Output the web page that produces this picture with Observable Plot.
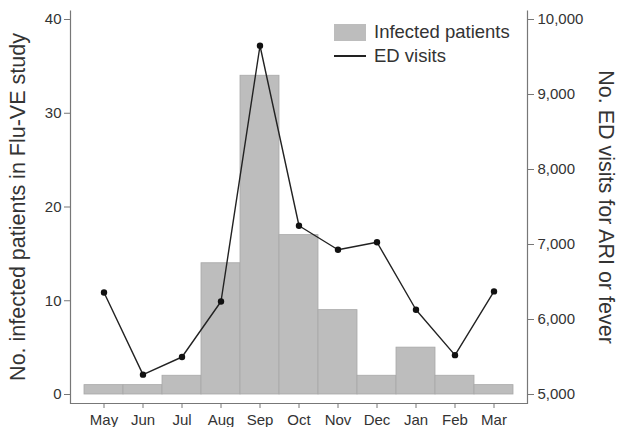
<!DOCTYPE html>
<html><head><meta charset="utf-8">
<script src="https://cdn.jsdelivr.net/npm/d3@7"></script>
<script src="https://cdn.jsdelivr.net/npm/@observablehq/plot@0.6"></script>
<style>
body{margin:0;background:#fff;}
#wrap{position:relative;width:617px;height:427px;font-family:"Liberation Sans",Arial,sans-serif;}
#wrap svg{overflow:visible;}
.legend{position:absolute;left:334px;top:20px;font-size:18.5px;color:#333;line-height:24px;}
.legend .row{display:flex;align-items:center;height:24px;}
.legend .sw{width:32px;height:17px;background:#bdbdbd;margin-right:8px;}
.legend .ln{width:32px;height:2px;background:#222;margin-right:8px;}
</style></head><body><div id="wrap"></div>
<script>
const months = ["May","Jun","Jul","Aug","Sep","Oct","Nov","Dec","Jan","Feb","Mar"];
const infected = [1, 1, 2, 14, 34, 17, 9, 2, 5, 2, 1];
const edVisits = [6360, 5265, 5500, 6240, 9650, 7250, 6930, 7030, 6130, 5525, 6375];
const leftTicks = [0, 10, 20, 30, 40];
const rightTicks = [5000, 6000, 7000, 8000, 9000, 10000];
const edMin = 5000, edMax = 10000, infMax = 40;
const toLeft = v => (v - edMin) / (edMax - edMin) * infMax;
const fromLeft = d => edMin + d / infMax * (edMax - edMin);
const data = months.map((m, i) => ({month: m, infected: infected[i], ed: edVisits[i], edY: toLeft(edVisits[i])}));

const W = 617, H = 427, mL = 70, mR = 90, mT = 10, mB = 24;
const fw = W - mL - mR, fh = H - mT - mB;

const chart = Plot.plot({
  width: W, height: H,
  marginLeft: mL, marginRight: mR, marginTop: mT, marginBottom: mB,
  style: {fontFamily: '"Liberation Sans", Arial, sans-serif', fontSize: "15px", color: "#333", background: "#fff"},
  x: {type: "band", domain: months, padding: 0, insetLeft: 9, insetRight: 10, label: null},
  y: {domain: [0, infMax], insetTop: 9, insetBottom: 9, label: null},
  marks: [
    Plot.barY(data, {x: "month", y: "infected", fill: "#bdbdbd", stroke: "#a8a8a8", strokeWidth: 0.8}),
    Plot.line(data, {x: "month", y: "edY", stroke: "#222", strokeWidth: 1.4}),
    Plot.dot(data, {x: "month", y: "edY", r: 3.2, fill: "#111", stroke: null}),
    Plot.frame({stroke: "#777", strokeWidth: 1.2, strokeDasharray: `0 ${fw} ${fw + 2 * fh}`}),
    Plot.axisY(leftTicks, {anchor: "left", tickSize: 6, tickPadding: 3, label: null, stroke: "#777", fill: "#333"}),
    Plot.axisY(rightTicks.map(toLeft), {anchor: "right", tickSize: 6, tickPadding: 4, label: null, stroke: "#777", fill: "#333",
      tickFormat: d => d3.format(",")(Math.round(fromLeft(d)))}),
    Plot.axisX({anchor: "bottom", tickSize: 5, tickPadding: 6, label: null, stroke: "#777", fill: "#333"}),
    Plot.text(["No. infected patients in Flu-VE study"], {frameAnchor: "left", rotate: -90, dx: -52, textAnchor: "middle", lineAnchor: "middle", fontSize: 21.5, fill: "#333"}),
    Plot.text(["No. ED visits for ARI or fever"], {frameAnchor: "right", rotate: 90, dx: 78, textAnchor: "middle", lineAnchor: "middle", fontSize: 21.5, fill: "#333"})
  ]
});
const wrap = document.getElementById("wrap");
wrap.appendChild(chart);
const legend = document.createElement("div");
legend.className = "legend";
legend.innerHTML = '<div class="row"><div class="sw"></div><span>Infected patients</span></div><div class="row"><div class="ln"></div><span>ED visits</span></div>';
wrap.appendChild(legend);
</script></body></html>
